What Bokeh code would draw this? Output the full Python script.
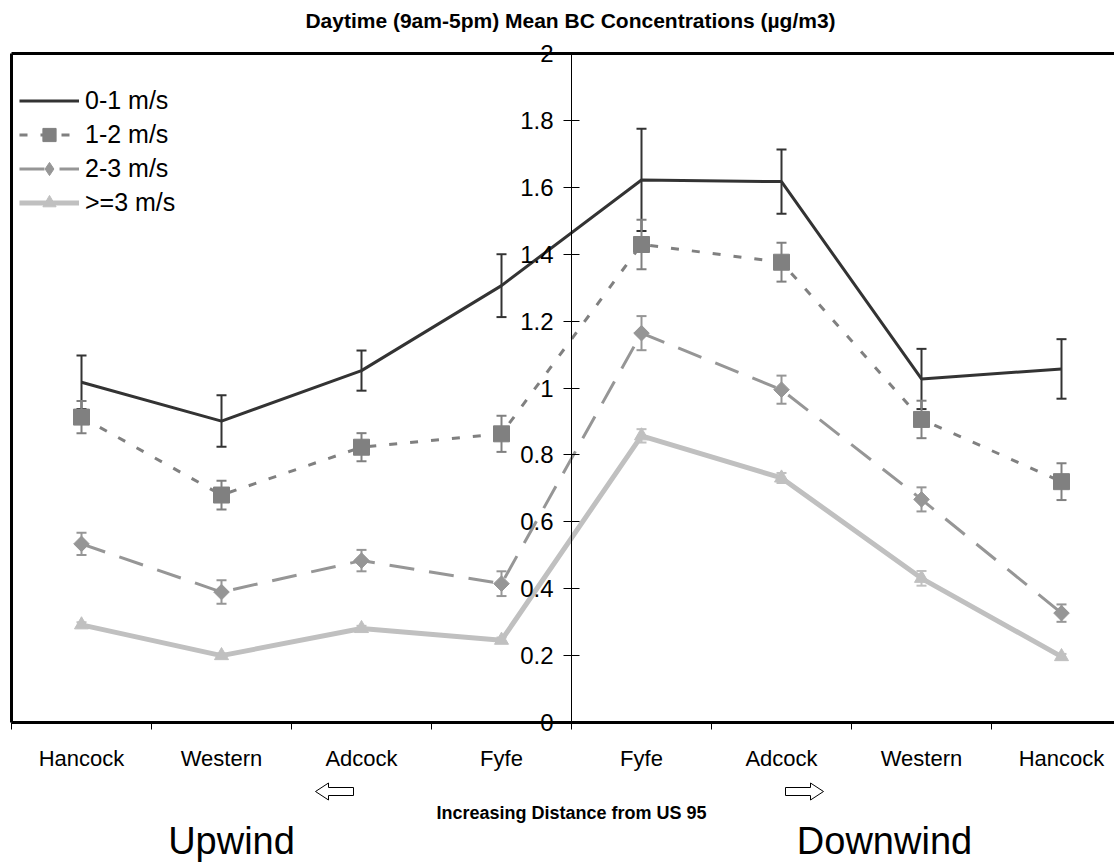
import numpy as np
from bokeh.plotting import figure
from bokeh.models import (Range1d, FixedTicker, NumeralTickFormatter, Whisker, TeeHead,
                          ColumnDataSource, Legend, LegendItem)
from bokeh.core.properties import value
from bokeh.embed import file_html
from bokeh.resources import INLINE

# Monitoring sites, upwind side (left) then downwind side (right)
sites = ["Hancock", "Western", "Adcock", "Fyfe", "Fyfe", "Adcock", "Western", "Hancock"]
series_names = ["0-1 m/s", "1-2 m/s", "2-3 m/s", ">=3 m/s"]

# Mean daytime BC concentrations (ug/m3) by wind-speed class
bc_0_1 = [1.017, 0.901, 1.052, 1.306, 1.622, 1.617, 1.027, 1.057]
bc_1_2 = [0.913, 0.680, 0.823, 0.863, 1.429, 1.376, 0.906, 0.720]
bc_2_3 = [0.534, 0.390, 0.484, 0.415, 1.164, 0.995, 0.667, 0.327]
bc_3p = [0.292, 0.200, 0.281, 0.246, 0.857, 0.731, 0.431, 0.197]

# Error-bar half widths
err_0_1 = [0.080, 0.077, 0.060, 0.094, 0.153, 0.096, 0.090, 0.089]
err_1_2 = [0.048, 0.043, 0.042, 0.054, 0.074, 0.058, 0.056, 0.055]
err_2_3 = [0.033, 0.035, 0.032, 0.037, 0.051, 0.042, 0.036, 0.026]
err_3p = [0.008, 0.006, 0.008, 0.008, 0.020, 0.015, 0.022, 0.008]

y_ticks = [0, 0.2, 0.4, 0.6, 0.8, 1, 1.2, 1.4, 1.6, 1.8, 2]

title_text = "Daytime (9am-5pm) Mean BC Concentrations (µg/m3)"
x_title = "Increasing Distance from US 95"
side_names = ["Upwind", "Downwind"]

FONT = "Liberation Sans"
W, H = 1114, 864
SLOT = 140.0      # px per site slot
UNIT = 334.5      # px per ug/m3
LEFT, BASE = 11, 722   # pixel position of x=0 and y=0

x = np.arange(len(sites)) + 0.5
x_lo, x_hi = -LEFT / SLOT, (W - LEFT) / SLOT
y_lo, y_hi = -(H - BASE) / UNIT, BASE / UNIT


def px_y(py):
    """Canvas row (from the top) to a value on the concentration scale."""
    return (BASE - py) / UNIT


def px_x(px):
    """Canvas column to a position on the site scale."""
    return (px - LEFT) / SLOT


# The drawing area spans the whole canvas; axes are pinned inside it
p = figure(width=W, height=H, output_backend="svg", toolbar_location=None,
           x_range=Range1d(x_lo, x_hi), y_range=Range1d(y_lo, y_hi),
           min_border=0)
p.outline_line_color = None
p.grid.visible = False
p.background_fill_color = "white"
p.border_fill_color = "white"

# Value axis sits between the upwind and downwind halves
yaxis = p.yaxis[0]
yaxis.fixed_location = 4
yaxis.bounds = (0, 2)
yaxis.ticker = FixedTicker(ticks=y_ticks)
yaxis.formatter = NumeralTickFormatter(format="0.[0]")
yaxis.major_tick_in = 8
yaxis.major_tick_out = 8
yaxis.minor_tick_line_color = None
yaxis.axis_line_color = "black"
yaxis.axis_line_width = 1
yaxis.major_tick_line_color = "black"
yaxis.major_label_text_font = FONT
yaxis.major_label_text_font_size = "24px"
yaxis.major_label_text_color = "black"
yaxis.major_label_standoff = 10

# Site axis: labels centred in each slot, tick marks on the slot boundaries
xaxis = p.xaxis[0]
xaxis.fixed_location = 0
xaxis.bounds = (0, x_hi)
xaxis.ticker = FixedTicker(ticks=list(x), minor_ticks=list(range(len(sites) + 1)))
xaxis.major_label_overrides = {float(v): s for v, s in zip(x, sites)}
xaxis.major_tick_line_color = None
xaxis.major_tick_in = 0
xaxis.major_tick_out = 0
xaxis.minor_tick_in = 0
xaxis.minor_tick_out = 7
xaxis.minor_tick_line_color = "black"
xaxis.axis_line_color = "black"
xaxis.axis_line_width = 3
xaxis.major_label_text_font = FONT
xaxis.major_label_text_font_size = "22px"
xaxis.major_label_text_color = "black"
xaxis.major_label_standoff = 16

# Frame edges on the left and top
p.segment(x0=[0, 0], y0=[0, 2], x1=[0, x_hi], y1=[2, 2], line_color="black", line_width=3)

styles = [
    dict(vals=bc_0_1, errs=err_0_1, color="#333333", width=3, dash="solid", marker=None),
    dict(vals=bc_1_2, errs=err_1_2, color="#808080", width=3, dash="8 13",
         marker=dict(marker="square", size=16, angle=0)),
    dict(vals=bc_2_3, errs=err_2_3, color="#969696", width=3, dash="25 15",
         marker=dict(marker="square", size=11, angle=np.pi / 4, key="diamond")),
    dict(vals=bc_3p, errs=err_3p, color="#c0c0c0", width=5, dash="solid",
         marker=dict(marker="triangle", size=14, angle=0)),
]

items = []
for name, st in zip(series_names, styles):
    vals = np.array(st["vals"])
    errs = np.array(st["errs"])
    src = ColumnDataSource(dict(x=x, y=vals, lo=vals - errs, hi=vals + errs))
    whisk = Whisker(source=src, base="x", upper="hi", lower="lo", dimension="height",
                    line_color=st["color"], line_width=2,
                    upper_head=TeeHead(size=10, line_color=st["color"], line_width=2),
                    lower_head=TeeHead(size=10, line_color=st["color"], line_width=2))
    p.add_layout(whisk)
    line = p.line("x", "y", source=src, line_color=st["color"], line_width=st["width"],
                  line_dash=st["dash"])
    legend_rends = [line]
    m = st["marker"]
    if m is not None:
        if "key" in m:
            # diamond key for the legend, sitting under the turned squares
            key = p.scatter("x", "y", source=src, marker=m["key"], size=m["size"],
                            fill_color=st["color"], line_color=st["color"])
            legend_rends.append(key)
        pts = p.scatter("x", "y", source=src, marker=m["marker"], size=m["size"],
                        angle=m["angle"], fill_color=st["color"], line_color=st["color"])
        if "key" not in m:
            legend_rends.append(pts)
    items.append(LegendItem(label=name, renderers=legend_rends))

legend = Legend(items=items, location=(19, H - 219), padding=7, margin=0, spacing=1,
                glyph_width=60, glyph_height=33, label_height=33, label_standoff=6,
                label_text_font=FONT, label_text_font_size="25px",
                label_text_color="black",
                background_fill_color="white", background_fill_alpha=1.0,
                border_line_color=None)
p.add_layout(legend)

# Chart title and the direction captions below the site axis
p.text(x=[px_x(570)], y=[px_y(20)], text=[title_text], text_align="center",
       text_baseline="alphabetic", text_font=value(FONT), text_font_size="21px",
       text_font_style="bold", text_color="black")
p.text(x=[4.0], y=[px_y(812)], text=[x_title], text_align="center",
       text_baseline="alphabetic", text_font=value(FONT), text_font_size="18px",
       text_font_style="bold", text_color="black")
p.text(x=[px_x(231), px_x(884)], y=[px_y(840)] * 2, text=side_names,
       text_align="center", text_baseline="alphabetic", text_font=value(FONT),
       text_font_size="38px", text_color="black")


def block_arrow(cx, cy, direction):
    """Outlined block arrow centred at (cx, cy), pointing left (-1) or right (+1)."""
    half_len = 19 / SLOT
    head = 13 / SLOT
    head_h = 8.5 / UNIT
    shaft_h = 4 / UNIT
    tip = cx + direction * half_len
    neck = tip - direction * head
    tail = cx - direction * half_len
    xs = [tip, neck, neck, tail, tail, neck, neck]
    ys = [cy, cy + head_h, cy + shaft_h, cy + shaft_h, cy - shaft_h, cy - shaft_h, cy - head_h]
    return xs, ys


for cpx, direction in [(334, -1), (804, 1)]:
    axs, ays = block_arrow(px_x(cpx), px_y(791), direction)
    p.patch(axs, ays, fill_color="white", line_color="black", line_width=1)

open("out.html", "w").write(file_html(p, INLINE))
